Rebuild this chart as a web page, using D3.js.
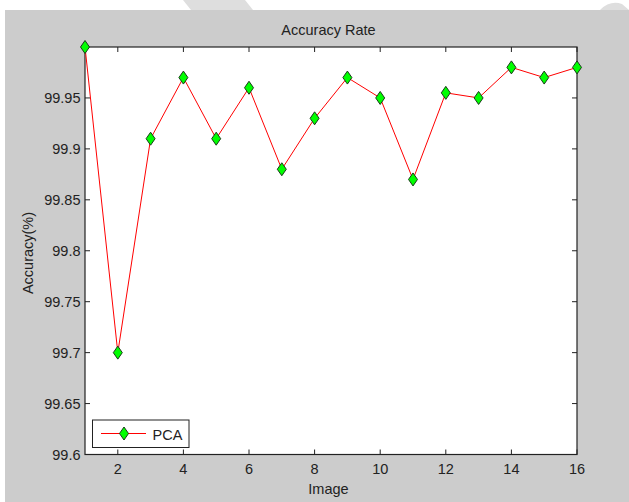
<!DOCTYPE html>
<html><head><meta charset="utf-8">
<script src="https://cdn.jsdelivr.net/npm/d3@7"></script>
<style>
html,body{margin:0;padding:0;background:#fff;}
svg{display:block;font-family:"Liberation Sans",Arial,sans-serif;}
</style></head>
<body><svg id="c" width="629" height="502"></svg>
<script>
const images = [1,2,3,4,5,6,7,8,9,10,11,12,13,14,15,16];
const accuracy = [100,99.70,99.91,99.97,99.91,99.96,99.88,99.93,99.97,99.95,99.87,99.955,99.95,99.98,99.97,99.98];
const xTicks = [2,4,6,8,10,12,14,16];
const yTicks = [99.6,99.65,99.7,99.75,99.8,99.85,99.9,99.95];
const seriesName = "PCA";
const titleText = "Accuracy Rate";
const xLabel = "Image";
const yLabel = "Accuracy(%)";

const svg = d3.select("#c");
// figure background
svg.append("rect").attr("x",5).attr("y",10).attr("width",624).attr("height",492).attr("fill","#cccccc");
// faint watermark shapes in top margin
svg.append("path").attr("d","M183,0 L245,0 L253,10 L191,10 Z").attr("fill","#dedede");
svg.append("path").attr("d","M600,10 Q610,0 622,4 L629,10 Z").attr("fill","#dedede");

const L=85, R=577, T=47, B=454.5;
const x = d3.scaleLinear().domain([1,16]).range([L,R]);
const y = d3.scaleLinear().domain([99.6,100]).range([B,T]);

svg.append("rect").attr("x",L).attr("y",T).attr("width",R-L).attr("height",B-T).attr("fill","#fff");

const g = svg.append("g");
// ticks (inward, on all four sides)
const tl = 5;
xTicks.forEach(v=>{
  g.append("line").attr("x1",x(v)).attr("x2",x(v)).attr("y1",B).attr("y2",B-tl).attr("stroke","#222");
  g.append("line").attr("x1",x(v)).attr("x2",x(v)).attr("y1",T).attr("y2",T+tl).attr("stroke","#222");
});
yTicks.forEach(v=>{
  g.append("line").attr("x1",L).attr("x2",L+tl).attr("y1",y(v)).attr("y2",y(v)).attr("stroke","#222");
  g.append("line").attr("x1",R).attr("x2",R-tl).attr("y1",y(v)).attr("y2",y(v)).attr("stroke","#222");
});
// frame
g.append("rect").attr("x",L).attr("y",T).attr("width",R-L).attr("height",B-T)
  .attr("fill","none").attr("stroke","#222").attr("stroke-width",1.2);

// tick labels
const fs = 14.5;
xTicks.forEach(v=>{
  svg.append("text").attr("x",x(v)).attr("y",473.5).attr("text-anchor","middle")
    .attr("font-size",fs).attr("fill","#222").text(v);
});
yTicks.forEach(v=>{
  svg.append("text").attr("x",80.5).attr("y",y(v)+5.2).attr("text-anchor","end")
    .attr("font-size",fs).attr("fill","#222").text(d3.format("~g")(v));
});

// title and axis labels
svg.append("text").attr("x",328.5).attr("y",35).attr("text-anchor","middle")
  .attr("font-size",fs).attr("fill","#222").text(titleText);
svg.append("text").attr("x",328.5).attr("y",493.5).attr("text-anchor","middle")
  .attr("font-size",fs).attr("fill","#222").text(xLabel);
svg.append("text").attr("transform","translate(32.5,253) rotate(-90)").attr("text-anchor","middle")
  .attr("font-size",fs).attr("fill","#222").text(yLabel);

// data line
const data = images.map((d,i)=>({x:d,y:accuracy[i]}));
svg.append("path").datum(data)
  .attr("d",d3.line().x(d=>x(d.x)).y(d=>y(d.y)))
  .attr("fill","none").attr("stroke","#ff0000").attr("stroke-width",1);

const diamond = "M0,-6.5L4.5,0L0,6.5L-4.5,0Z";
svg.selectAll(".m").data(data).enter().append("path")
  .attr("transform",d=>`translate(${x(d.x)},${y(d.y)})`)
  .attr("d",diamond).attr("fill","#00ff00").attr("stroke","#1a3a1a").attr("stroke-width",1);

// legend
const lg = svg.append("g");
lg.append("rect").attr("x",92.5).attr("y",420).attr("width",96.5).attr("height",27.5)
  .attr("fill","#fff").attr("stroke","#222").attr("stroke-width",1);
lg.append("line").attr("x1",101).attr("x2",146).attr("y1",433.5).attr("y2",433.5)
  .attr("stroke","#ff0000").attr("stroke-width",1);
lg.append("path").attr("transform","translate(124,433.5)").attr("d",diamond)
  .attr("fill","#00ff00").attr("stroke","#1a3a1a").attr("stroke-width",1);
lg.append("text").attr("x",152.5).attr("y",439.5).attr("font-size",fs).attr("fill","#222").text(seriesName);
</script></body></html>
